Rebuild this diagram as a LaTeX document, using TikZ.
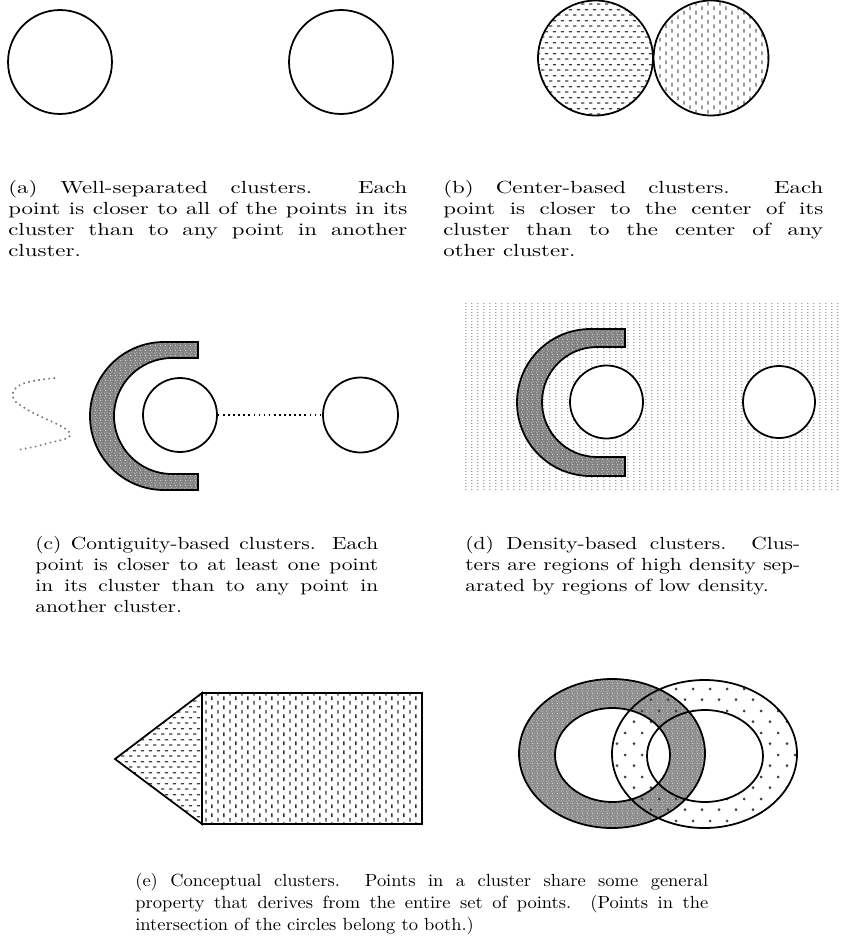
\documentclass[tikz,border=0pt]{standalone}
\usepackage{fontspec}
\usepackage{tikz}
\usetikzlibrary{patterns}
\newfontfamily\widefont[FakeStretch=1.22]{lmroman10-regular.otf}
\newfontfamily\widerfont[FakeStretch=1.3]{lmroman10-regular.otf}
\newfontfamily\slimfont[FakeStretch=1.05]{lmroman10-regular.otf}

% fill patterns
\pgfdeclarepatternformonly{hdashes}{\pgfqpoint{0pt}{0pt}}{\pgfqpoint{4.6pt}{6.4pt}}{\pgfqpoint{4.6pt}{6.4pt}}{
  \pgfsetlinewidth{0.8pt}
  \pgfpathmoveto{\pgfqpoint{0.1pt}{1.2pt}}\pgfpathlineto{\pgfqpoint{2.2pt}{1.2pt}}
  \pgfpathmoveto{\pgfqpoint{2.4pt}{4.4pt}}\pgfpathlineto{\pgfqpoint{4.5pt}{4.4pt}}
  \pgfusepath{stroke}}
\pgfdeclarepatternformonly{vdashes}{\pgfqpoint{0pt}{0pt}}{\pgfqpoint{6.8pt}{5.1pt}}{\pgfqpoint{6.8pt}{5.1pt}}{
  \pgfsetlinewidth{0.8pt}
  \pgfpathmoveto{\pgfqpoint{1.7pt}{0.2pt}}\pgfpathlineto{\pgfqpoint{1.7pt}{2.4pt}}
  \pgfpathmoveto{\pgfqpoint{5.1pt}{2.75pt}}\pgfpathlineto{\pgfqpoint{5.1pt}{4.95pt}}
  \pgfusepath{stroke}}
\pgfdeclarepatternformonly{lowdots}{\pgfqpoint{0pt}{0pt}}{\pgfqpoint{3.3pt}{1.9pt}}{\pgfqpoint{3.3pt}{1.9pt}}{
  \pgfpathcircle{\pgfqpoint{1.65pt}{0.95pt}}{0.4pt}
  \pgfusepath{fill}}
\pgfdeclarepatternformonly{sparsedots}{\pgfqpoint{0pt}{0pt}}{\pgfqpoint{9.7pt}{12.6pt}}{\pgfqpoint{9.7pt}{12.6pt}}{
  \pgfpathcircle{\pgfqpoint{2.4pt}{3.1pt}}{0.9pt}
  \pgfpathcircle{\pgfqpoint{7.25pt}{9.4pt}}{0.9pt}
  \pgfusepath{fill}}
\pgfdeclarepatternformonly{speckle}{\pgfqpoint{0pt}{0pt}}{\pgfqpoint{3pt}{3pt}}{\pgfqpoint{3pt}{3pt}}{
  \pgfpathcircle{\pgfqpoint{0.5pt}{0.5pt}}{0.35pt}
  \pgfpathcircle{\pgfqpoint{1.8pt}{1.1pt}}{0.3pt}
  \pgfpathcircle{\pgfqpoint{0.9pt}{2.3pt}}{0.4pt}
  \pgfpathcircle{\pgfqpoint{2.4pt}{2.5pt}}{0.25pt}
  \pgfusepath{fill}}

\tikzset{
  cluster/.style={
    circle, draw, line width=1pt, inner sep=0pt
  },
  caption/.style={
    anchor=north west, inner sep=0pt, align=justify,
    font=\widefont\fontsize{10}{12}\selectfont
  },
  blob/.style={
    draw, line width=1pt, preaction={fill=black!50},
    pattern=speckle, pattern color=black!12
  },
  link/.style={dotted, line width=0.9pt},
  wiggle/.style={draw=black!55, dotted, line width=0.9pt},
}

\begin{document}
\begin{tikzpicture}[x=0.02cm, y=-0.02cm]
  \useasboundingbox (0,0) rectangle (843,947);

  % (a) well-separated
  \node (a1) [cluster, minimum size=2.08cm] at (60,62) {};
  \node (a2) [cluster, minimum size=2.08cm] at (341,62) {};
  \node (capa) [caption, text width=7.98cm, font=\widerfont\fontsize{10}{12}\selectfont] at (8,180)
    {(a) Well-separated clusters.\ \ Each\linebreak
     point is closer to all of the points in its\linebreak
     cluster than to any point in another\linebreak
     cluster.};

  % (b) center-based
  \node (b1) [cluster, minimum size=2.3cm, pattern=hdashes, pattern color=black!75] at (595.5,58) {};
  \node (b2) [cluster, minimum size=2.3cm, pattern=vdashes, pattern color=black!60] at (711,58) {};
  \node (capb) [caption, text width=7.6cm, font=\widerfont\fontsize{10}{12}\selectfont] at (443,180)
    {(b) Center-based clusters.\ \ Each\linebreak
     point is closer to the center of its\linebreak
     cluster than to the center of any\linebreak
     other cluster.};

  % (c) contiguity-based
  \draw[wiggle] plot[smooth, tension=0.7] coordinates
    {(55,378) (22,384) (13,397) (28,410) (70,433) (45,444) (17,450)};
  \path[blob] (198,342) -- (164,342) arc[start angle=-90, end angle=-270, radius=74]
    -- (198,490) -- (198,474) -- (172,474) arc[start angle=90, end angle=270, radius=58]
    -- (198,358) -- cycle;
  \node (c1) [cluster, minimum size=1.48cm] at (180,415) {};
  \node (c2) [cluster, minimum size=1.5cm] at (360.5,415) {};
  \draw[link] (c1) -- (c2);
  \node (capc) [caption, text width=6.86cm] at (35,536)
    {(c) Contiguity-based clusters. Each\linebreak
     point is closer to at least one point\linebreak
     in its cluster than to any point in\linebreak
     another cluster.};

  % (d) density-based
  \fill[pattern=lowdots, pattern color=black!50] (464,302) rectangle (842,490);
  \path[blob] (625,329) -- (590.5,329) arc[start angle=-90, end angle=-270, radius=73.5]
    -- (625,476) -- (625,457) -- (597,457) arc[start angle=90, end angle=270, radius=55]
    -- (625,347) -- cycle;
  \node (d1) [cluster, fill=white, minimum size=1.46cm] at (606.5,402) {};
  \node (d2) [cluster, fill=white, minimum size=1.44cm] at (779,402) {};
  \node (capd) [caption, text width=6.7cm] at (465,536)
    {(d) Density-based clusters.\ \ Clus-\linebreak
     ters are regions of high density sep-\linebreak
     arated by regions of low density.};

  % (e) conceptual
  \path[draw, line width=1pt, pattern=hdashes, pattern color=black!75]
    (202,693) -- (115,759) -- (202,824) -- cycle;
  \path[draw, line width=1pt, pattern=vdashes, pattern color=black!80]
    (202,693) rectangle (422,824);
  \path[preaction={fill=black!45, even odd rule}, pattern=speckle, pattern color=black!15, even odd rule]
    (612,753.5) ellipse[x radius=93, y radius=74.5]
    (612.5,755) ellipse[x radius=57.5, y radius=47];
  \path[pattern=sparsedots, pattern color=black!75, even odd rule]
    (704.5,754) ellipse[x radius=92.5, y radius=74]
    (705,756) ellipse[x radius=58, y radius=46];
  \draw[line width=1pt] (612,753.5) ellipse[x radius=93, y radius=74.5]
    (612.5,755) ellipse[x radius=57.5, y radius=47]
    (704.5,754) ellipse[x radius=92.5, y radius=74]
    (705,756) ellipse[x radius=58, y radius=46];
  \node (cape) [caption, text width=11.46cm, font=\slimfont\fontsize{10}{12.5}\selectfont] at (135,873)
    {(e) Conceptual clusters.\ \ Points in a cluster share some general\linebreak
     property that derives from the entire set of points.\ \ (Points in the\linebreak
     intersection of the circles belong to both.)};
\end{tikzpicture}
\end{document}
